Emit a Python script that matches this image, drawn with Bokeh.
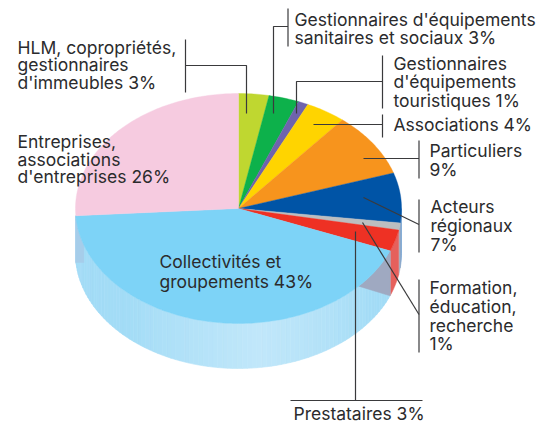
import math
from bokeh.plotting import figure
from bokeh.models import Range1d
from bokeh.core.properties import value
from bokeh.embed import file_html
from bokeh.resources import INLINE

# clockwise from twelve o'clock
categories = ["HLM", "Sanitaires", "Touristiques", "Associations", "Particuliers",
              "Acteurs régionaux", "Formation", "Prestataires", "Collectivités", "Entreprises"]
shares = [3, 3, 1, 4, 9, 7, 1, 3, 43, 26]
top_colors = ["#bfd730", "#0db14b", "#6f63ad", "#ffd400", "#f7941d",
              "#0054a6", "#bcbec0", "#ee3124", "#7dd3f7", "#f6cbe0"]
wall_colors = [None, None, None, None, None, "#5f93c9", "#a9b4c4", "#e6605c", None, None]

W, H = 553, 424
OFF = 0
CX, CY, RX, RY, DEPTH = 238, 208, 163, 115, 45
TEXT_SHIFT = -6


def pt(share, drop=0):
    a = share / 100 * 2 * math.pi
    return CX + RX * math.sin(a), CY - RY * math.cos(a) + drop


def arc(s0, s1, drop=0, step=0.25):
    n = max(2, int(abs(s1 - s0) / step) + 1)
    return [pt(s0 + (s1 - s0) * i / (n - 1), drop) for i in range(n)]


p = figure(width=W, height=H, output_backend="svg", toolbar_location=None,
           x_range=Range1d(OFF, OFF + W), y_range=Range1d(OFF + H, OFF),
           min_border=0, outline_line_color=None, background_fill_color="white")
p.xaxis.visible = False
p.yaxis.visible = False
p.grid.visible = False

# cumulative boundaries
bounds = [0]
for s in shares:
    bounds.append(bounds[-1] + s)

# side wall: small coloured sectors visible at the right
for i, c in enumerate(wall_colors):
    if c is None:
        continue
    s0, s1 = max(bounds[i], 25), bounds[i + 1]
    pts = arc(s0, s1) + arc(s1, s0, DEPTH)
    p.patch([q[0] for q in pts], [q[1] for q in pts], fill_color=c, line_color=c, line_width=0.5)

# light blue wall of the big sector, as shaded strips
i_big = categories.index("Collectivités")
s0, s1 = bounds[i_big], bounds[i_big + 1]
n = 90
light = (193, 231, 250)
dark = (163, 220, 246)
for k in range(n):
    a, b = s0 + (s1 - s0) * k / n, s0 + (s1 - s0) * (k + 1) / n
    mid = (a + b) / 2
    t = min(1, abs(mid - 48) / 14)
    col = tuple(round(light[j] + (dark[j] - light[j]) * t) for j in range(3))
    hexcol = "#%02x%02x%02x" % col
    pts = arc(a, b) + arc(b, a, DEPTH)
    p.patch([q[0] for q in pts], [q[1] for q in pts], fill_color=hexcol, line_color=hexcol, line_width=0.6)

# cut face seen through the wall at right
a, b = bounds[i_big], bounds[i_big] + 5.8
pts = [pt(b)] + arc(b, a) + [pt(a, DEPTH)]
p.patch([q[0] for q in pts], [q[1] for q in pts], fill_color="#9fa9c1", line_color="#9fa9c1", line_width=0.5)

# darker patch at far left
e = bounds[i_big + 1]
lim = CY + 54
left = arc(e, e - 4.1)
pts = left + [(left[-1][0], lim), (CX - RX, lim), (CX - RX, CY + 8)]
p.patch([q[0] for q in pts], [q[1] for q in pts], fill_color="#a6cdea", line_color="#a6cdea", line_width=0.5)

# top face
for i, c in enumerate(top_colors):
    pts = [(CX, CY)] + arc(bounds[i], bounds[i + 1])
    p.patch([q[0] for q in pts], [q[1] for q in pts], fill_color=c, line_color=c, line_width=0.4)

# leaders
INK = "#3a3a3c"
leaders = [
    [(287.5, 8), (287.5, 46)],
    [(287.5, 26), (273, 26), (273, 113)],
    [(185, 39), (185, 92)],
    [(185, 65), (246, 65), (246, 113)],
    [(382, 55), (382, 108)],
    [(382, 81), (296, 81), (296, 113)],
    [(382, 114), (382, 137)],
    [(382, 124), (313, 124)],
    [(418.5, 140), (418.5, 178)],
    [(418.5, 158), (363, 158)],
    [(418.5, 199), (418.5, 252)],
    [(418.5, 224), (363, 197)],
    [(418.5, 279), (418.5, 352)],
    [(418.5, 314), (362, 222)],
    [(355, 231), (355, 400)],
    [(290, 400), (422, 400)],
]
for seg in leaders:
    p.line([q[0] for q in seg], [q[1] for q in seg], line_color=INK, line_width=1.2)

labels = [
    (294, 25, "Gestionnaires d'équipements"),
    (294, 43, "sanitaires et sociaux 3%"),
    (17, 53, "HLM, copropriétés,"),
    (17, 70, "gestionnaires"),
    (17, 88, "d'immeubles 3%"),
    (393, 69, "Gestionnaires"),
    (393, 87, "d'équipements"),
    (393, 106, "touristiques 1%"),
    (393, 130, "Associations 4%"),
    (429, 156, "Particuliers"),
    (429, 175, "9%"),
    (430, 212, "Acteurs"),
    (430, 231, "régionaux"),
    (430, 250, "7%"),
    (429, 293, "Formation,"),
    (429, 312, "éducation,"),
    (429, 331, "recherche"),
    (429, 349, "1%"),
    (293, 419, "Prestataires 3%"),
    (17, 147, "Entreprises,"),
    (17, 165, "associations"),
    (17, 182, "d'entreprises 26%"),
    (159, 267, "Collectivités et"),
    (159, 287, "groupements 43%"),
]
p.text([l[0] for l in labels], [l[1] + TEXT_SHIFT for l in labels], text=[l[2] for l in labels],
       text_font=value("Inter"), text_font_size="17.5px", text_color="#2b2b2d",
       text_baseline="alphabetic", text_align="left")

open("out.html", "w").write(file_html(p, INLINE))
